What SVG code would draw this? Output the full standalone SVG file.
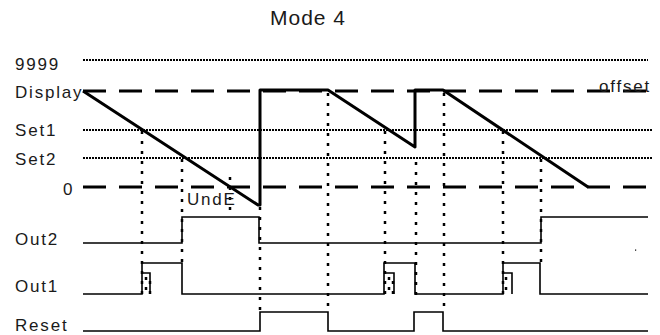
<svg xmlns="http://www.w3.org/2000/svg" width="660" height="335" viewBox="0 0 660 335">
<style>
text{font-family:"Liberation Sans",Arial,sans-serif;fill:#1a1a1a}
.lbl{font-size:17px;letter-spacing:1.8px}
.ttl{font-size:21px;letter-spacing:1px}
.fine{stroke:#000;stroke-width:2;stroke-dasharray:2 1;fill:none}
.dash{stroke:#000;stroke-width:3;stroke-dasharray:23 13;fill:none}
.vdot{stroke:#000;stroke-width:2.5;stroke-dasharray:3 7;fill:none}
.ramp{stroke:#000;stroke-width:3;fill:none;stroke-linejoin:round}
.sig{stroke:#000;stroke-width:1.6;fill:none}
</style>
<rect width="660" height="335" fill="#fff"/>
<g id="title"><text class="ttl" x="270" y="25">Mode 4</text></g>
<g id="labels">
<text class="lbl" x="15" y="70">9999</text>
<text class="lbl" x="15" y="98">Display</text>
<text class="lbl" x="15" y="136">Set1</text>
<text class="lbl" x="15" y="165">Set2</text>
<text class="lbl" x="63" y="195">0</text>
<text class="lbl" x="15" y="245">Out2</text>
<text class="lbl" x="15" y="292">Out1</text>
<text class="lbl" x="15" y="331">Reset</text>
</g>
<g id="levels">
<line class="fine" x1="83" y1="60" x2="648" y2="60"/>
<line class="fine" x1="83" y1="130" x2="652" y2="130"/>
<line class="fine" x1="83" y1="158" x2="652" y2="158"/>
<line class="dash" x1="83" y1="91" x2="648" y2="91"/>
<line class="dash" x1="83" y1="187" x2="648" y2="187"/>
</g>
<g id="markers">
<line class="vdot" x1="142" y1="131" x2="142" y2="296"/>
<line class="vdot" x1="146" y1="277" x2="146" y2="296"/>
<line class="vdot" x1="150" y1="281" x2="150" y2="296"/>
<line class="vdot" x1="182" y1="159" x2="182" y2="262"/>
<line class="vdot" x1="230" y1="177" x2="230" y2="212"/>
<line class="vdot" x1="260" y1="207" x2="260" y2="312"/>
<line class="vdot" x1="328" y1="93" x2="328" y2="312"/>
<line class="vdot" x1="385" y1="131" x2="385" y2="296"/>
<line class="vdot" x1="389" y1="277" x2="389" y2="296"/>
<line class="vdot" x1="393" y1="281" x2="393" y2="296"/>
<line class="vdot" x1="416" y1="162" x2="416" y2="300"/>
<line class="vdot" x1="444" y1="93" x2="444" y2="312"/>
<line class="vdot" x1="503" y1="131" x2="503" y2="296"/>
<line class="vdot" x1="506" y1="277" x2="506" y2="296"/>
<line class="vdot" x1="541" y1="159" x2="541" y2="262"/>
</g>
<g id="display-signal">
<polyline class="ramp" points="83,91 258,205 260,205 260,90 328,90 415,147 415,90 443,90 588,187"/>
</g>
<g id="out2"><polyline class="sig" points="83,243 182,243 182,217 259,217 259,243 541,243 541,217 648,217"/></g>
<g id="out1">
<polyline class="sig" points="83,294 142,294 142,263 182,263 182,294 384,294 384,263 415,263 415,294 503,294 503,263 540,263 540,294 648,294"/>
<polyline class="sig" points="142,273 150,273 150,294"/>
<polyline class="sig" points="384,273 394,273 394,294"/>
<polyline class="sig" points="503,273 512,273 512,294"/>
</g>
<g id="reset"><polyline class="sig" points="83,331 260,331 260,312 328,312 328,331 414,331 414,312 443,312 443,331 648,331"/></g>
<g id="notes">
<text class="lbl" x="187" y="205">UndE</text>
<text class="lbl" x="599" y="92">offset</text>
<rect x="635" y="249.5" width="1.2" height="1.2" fill="#000"/>
</g>
</svg>
